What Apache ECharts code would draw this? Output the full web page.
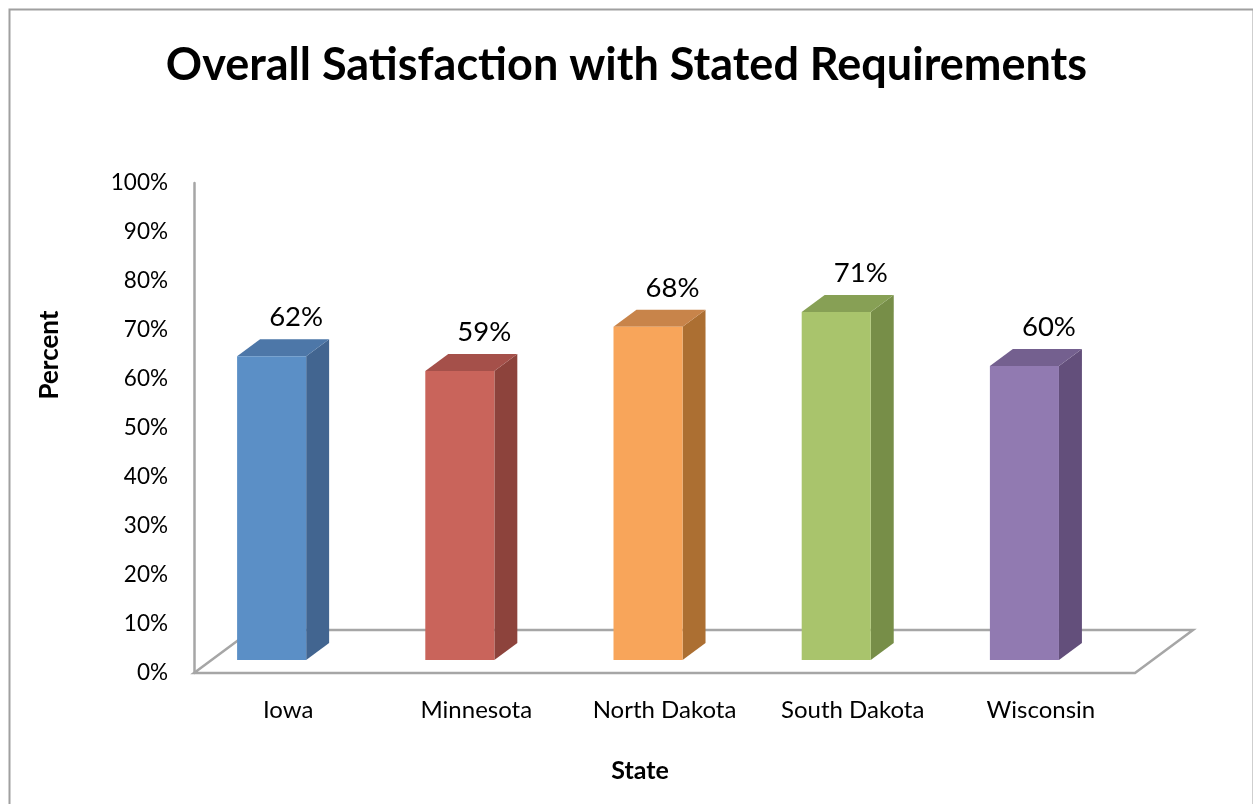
<!DOCTYPE html>
<html>
<head>
<meta charset="utf-8">
<script src="https://cdn.jsdelivr.net/npm/echarts@6/dist/echarts.min.js"></script>
<style>
html,body{margin:0;padding:0;background:#fff;}
#main{width:1253px;height:804px;}
</style>
</head>
<body>
<div id="main"></div>
<script>
const categories = ['Iowa', 'Minnesota', 'North Dakota', 'South Dakota', 'Wisconsin'];
const values = [62, 59, 68, 71, 60];
const frontColors = ['#5B8FC6', '#C9645B', '#F8A55A', '#A9C46C', '#917AB1'];
const topColors = ['#4D77A8', '#A5504A', '#C8844A', '#87A055', '#74608F'];
const sideColors = ['#426590', '#8D433C', '#AC6F32', '#778E48', '#634F7B'];
const yTicks = [0, 10, 20, 30, 40, 50, 60, 70, 80, 90, 100];

const FONT = 'Lato';
const chart = echarts.init(document.getElementById('main'));

function renderFloor(params, api) {
  const cs = params.coordSys;
  const x0 = cs.x, x1 = cs.x + cs.width, y0 = cs.y + cs.height;
  const dx = 58, dy = 43;
  const st = {stroke: '#A6A6A6', lineWidth: 2.5, fill: null};
  return {
    type: 'group',
    children: [
      {type: 'polyline', shape: {points: [[x0 + dx, y0 - dy], [x0, y0], [x1, y0], [x1 + dx, y0 - dy], [x0 + dx, y0 - dy]]}, style: st}
    ]
  };
}

function renderBar(params, api) {
  const i = api.value(0);
  const v = api.value(1);
  const top = api.coord([i, v]);
  const base = api.coord([i, 0]);
  const cx = top[0];
  const band = api.size([1, 0])[0];
  const sh = 13;
  const left = cx - band * 0.271;
  const right = cx + band * 0.096;
  const yt = top[1] - sh;
  const yb = base[1] - sh;
  const ddx = band * 0.122, ddy = 17;
  return {
    type: 'group',
    children: [
      {type: 'polygon', shape: {points: [[right, yt], [right + ddx, yt - ddy], [right + ddx, yb - ddy], [right, yb]]}, style: {fill: sideColors[i]}},
      {type: 'polygon', shape: {points: [[left, yt], [left + ddx, yt - ddy], [right + ddx, yt - ddy], [right, yt]]}, style: {fill: topColors[i]}},
      {type: 'rect', shape: {x: left, y: yt, width: right - left, height: yb - yt}, style: {fill: frontColors[i]}},
      {type: 'text', x: cx + 8, y: top[1] - 52, style: {text: v + '%', fontFamily: FONT, fontSize: 27.5, fill: '#000', align: 'center', verticalAlign: 'middle'}}
    ]
  };
}

chart.setOption({
  animation: false,
  backgroundColor: '#fff',
  title: {
    text: 'Overall Satisfaction with Stated Requirements',
    left: 'center',
    top: 38,
    textStyle: {fontFamily: FONT, fontWeight: 'bold', fontSize: 45, color: '#000'}
  },
  graphic: [
    {type: 'rect', left: 7, top: 7, shape: {width: 1244, height: 820}, style: {fill: null, stroke: '#A0A0A0', lineWidth: 2}, silent: true},
    {type: 'text', x: 50, y: 355, rotation: Math.PI / 2, style: {text: 'Percent', fontFamily: FONT, fontWeight: 'bold', fontSize: 26, fill: '#000', align: 'center', verticalAlign: 'middle'}, silent: true},
    {type: 'text', x: 640, y: 771, style: {text: 'State', fontFamily: FONT, fontWeight: 'bold', fontSize: 25, fill: '#000', align: 'center', verticalAlign: 'middle'}, silent: true}
  ],
  grid: {left: 194, right: 118, top: 183, bottom: 131},
  xAxis: {
    type: 'category',
    data: categories,
    axisLine: {show: false},
    axisTick: {show: false},
    axisLabel: {fontFamily: FONT, fontSize: 24, color: '#000', margin: 25}
  },
  yAxis: {
    type: 'value',
    min: 0,
    max: 100,
    interval: 10,
    axisLine: {show: true, lineStyle: {color: '#A6A6A6', width: 2.5}},
    axisTick: {show: false},
    splitLine: {show: false},
    axisLabel: {fontFamily: FONT, fontSize: 22.5, color: '#000', margin: 26, formatter: v => yTicks.includes(v) ? v + '%' : ''}
  },
  series: [
    {type: 'custom', renderItem: renderFloor, data: [[0, 0]], z: 1, silent: true},
    {type: 'custom', renderItem: renderBar, data: values.map((v, i) => [i, v]), z: 2, encode: {x: 0, y: 1}}
  ]
});
</script>
</body>
</html>
